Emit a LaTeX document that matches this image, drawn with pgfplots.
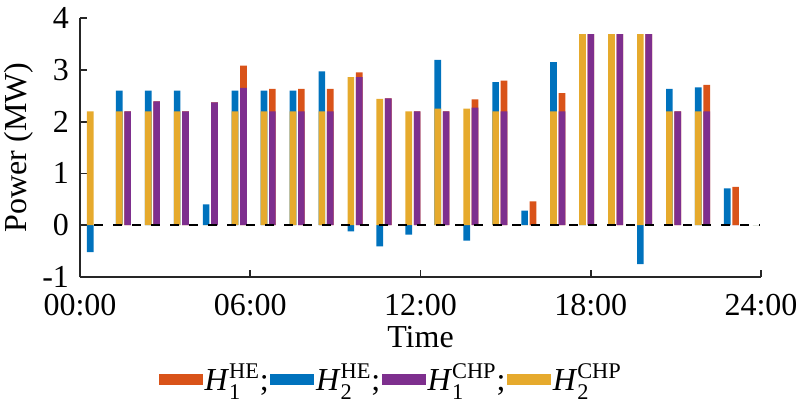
\documentclass[border=0pt]{standalone}
\usepackage{fontspec}
\setmainfont{Liberation Serif}
\usepackage{amsmath}
\usepackage{pgfplots}
\usepackage{pgfplotstable}
\pgfplotsset{compat=1.18}
\definecolor{cOr}{RGB}{217,83,25}
\definecolor{cBl}{RGB}{0,114,189}
\definecolor{cPu}{RGB}{126,47,142}
\definecolor{cYe}{RGB}{230,170,45}
\definecolor{axgray}{RGB}{38,38,38}

% h: group; yl: H2CHP; bl: H2HE; pu: H1CHP; or: H1HE
\pgfplotstableread{
h  yl    bl     pu    or
1  2.20  -0.52  0.00  0.00
2  2.20   0.40  2.20  0.00
3  2.20   0.40  2.39  0.00
4  2.20   0.40  2.20  0.00
5  0.00   0.40  2.37  0.00
6  2.20   0.40  2.65  0.43
7  2.20   0.40  2.20  0.43
8  2.20   0.40  2.20  0.43
9  2.20   0.77  2.20  0.43
10 2.86  -0.12  2.86  0.09
11 2.44  -0.41  2.45  0.00
12 2.20  -0.18  2.20  0.00
13 2.25   0.94  2.20  0.00
14 2.25  -0.30  2.27  0.16
15 2.20   0.56  2.20  0.59
16 0.00   0.28  0.00  0.46
17 2.20   0.95  2.20  0.35
18 3.69   0.00  3.69  0.00
19 3.69   0.00  3.69  0.00
20 3.69  -0.75  3.69  0.00
21 2.20   0.43  2.20  0.00
22 2.20   0.46  2.20  0.51
23 0.00   0.71  0.00  0.74
24 0.00   0.00  0.00  0.00
}\data

\begin{document}
\fontsize{16}{19}\selectfont
\begin{tikzpicture}
\begin{axis}[
  scale only axis,
  width=340.5pt, height=129.5pt,
  xmin=0.5, xmax=24.02, ymin=-1, ymax=4,
  axis x line*=bottom, axis y line*=left,
  axis line style={-, draw=axgray, line width=0.9pt},
  tick style={draw=axgray, line width=0.9pt},
  tick align=inside, major tick length=3.5pt,
  xtick={0.5,6.38,12.26,18.14,24.02},
  xticklabels={00:00,06:00,12:00,18:00,24:00},
  ytick={-1,0,1,2,3,4},
  yticklabels={-1,0,1,2,3,4},
  xticklabel style={anchor=base, yshift=-19pt, font=\fontsize{16}{19}\selectfont},
  yticklabel style={font=\fontsize{16}{19}\selectfont},
  xlabel={Time}, ylabel={Power (MW)},
  xlabel style={at={(axis description cs:0.5,0)}, anchor=base, yshift=-35pt, font=\fontsize{16}{19}\selectfont},
  ylabel style={at={(axis description cs:-0.078,0.5)}, anchor=base, font=\fontsize{16}{19}\selectfont},
  legend columns=-1,
  legend style={draw=none, fill=none, at={(0.457,-0.396)}, anchor=center,
    font=\fontsize{16}{19}\selectfont, nodes={inner sep=0.8pt}},
  legend image code/.code={\fill[#1, draw=none] (0pt,-2.75pt) rectangle (22pt,2.75pt);},
]
\addplot[ybar, bar width=0.23, bar shift=-0.145, fill=cBl, draw=none, forget plot]
  table[x=h, y expr={\thisrow{bl}>0 ? \thisrow{yl}+\thisrow{bl} : \thisrow{bl}}] {\data};
\addplot[ybar, bar width=0.23, bar shift=-0.145, fill=cYe, draw=none, forget plot]
  table[x=h, y=yl] {\data};
\addplot[ybar, bar width=0.23, bar shift=0.145, fill=cOr, draw=none, forget plot]
  table[x=h, y expr={\thisrow{pu}+\thisrow{or}}] {\data};
\addplot[ybar, bar width=0.23, bar shift=0.145, fill=cPu, draw=none, forget plot]
  table[x=h, y=pu] {\data};
\addplot[black, line width=1pt, dash pattern=on 4.5pt off 5pt, forget plot]
  coordinates {(1,0) (24,0)};
\addlegendimage{fill=cOr, draw=none}
\addlegendentry{\textit{H}$_{\text{1}}^{\text{HE}}$;}
\addlegendimage{fill=cBl, draw=none}
\addlegendentry{\textit{H}$_{\text{2}}^{\text{HE}}$;}
\addlegendimage{fill=cPu, draw=none}
\addlegendentry{\textit{H}$_{\text{1}}^{\text{CHP}}$;}
\addlegendimage{fill=cYe, draw=none}
\addlegendentry{\textit{H}$_{\text{2}}^{\text{CHP}}$}
\end{axis}
\pgfresetboundingbox
\path (-40pt,-65.5pt) rectangle (360pt,138.5pt);
\end{tikzpicture}
\end{document}
